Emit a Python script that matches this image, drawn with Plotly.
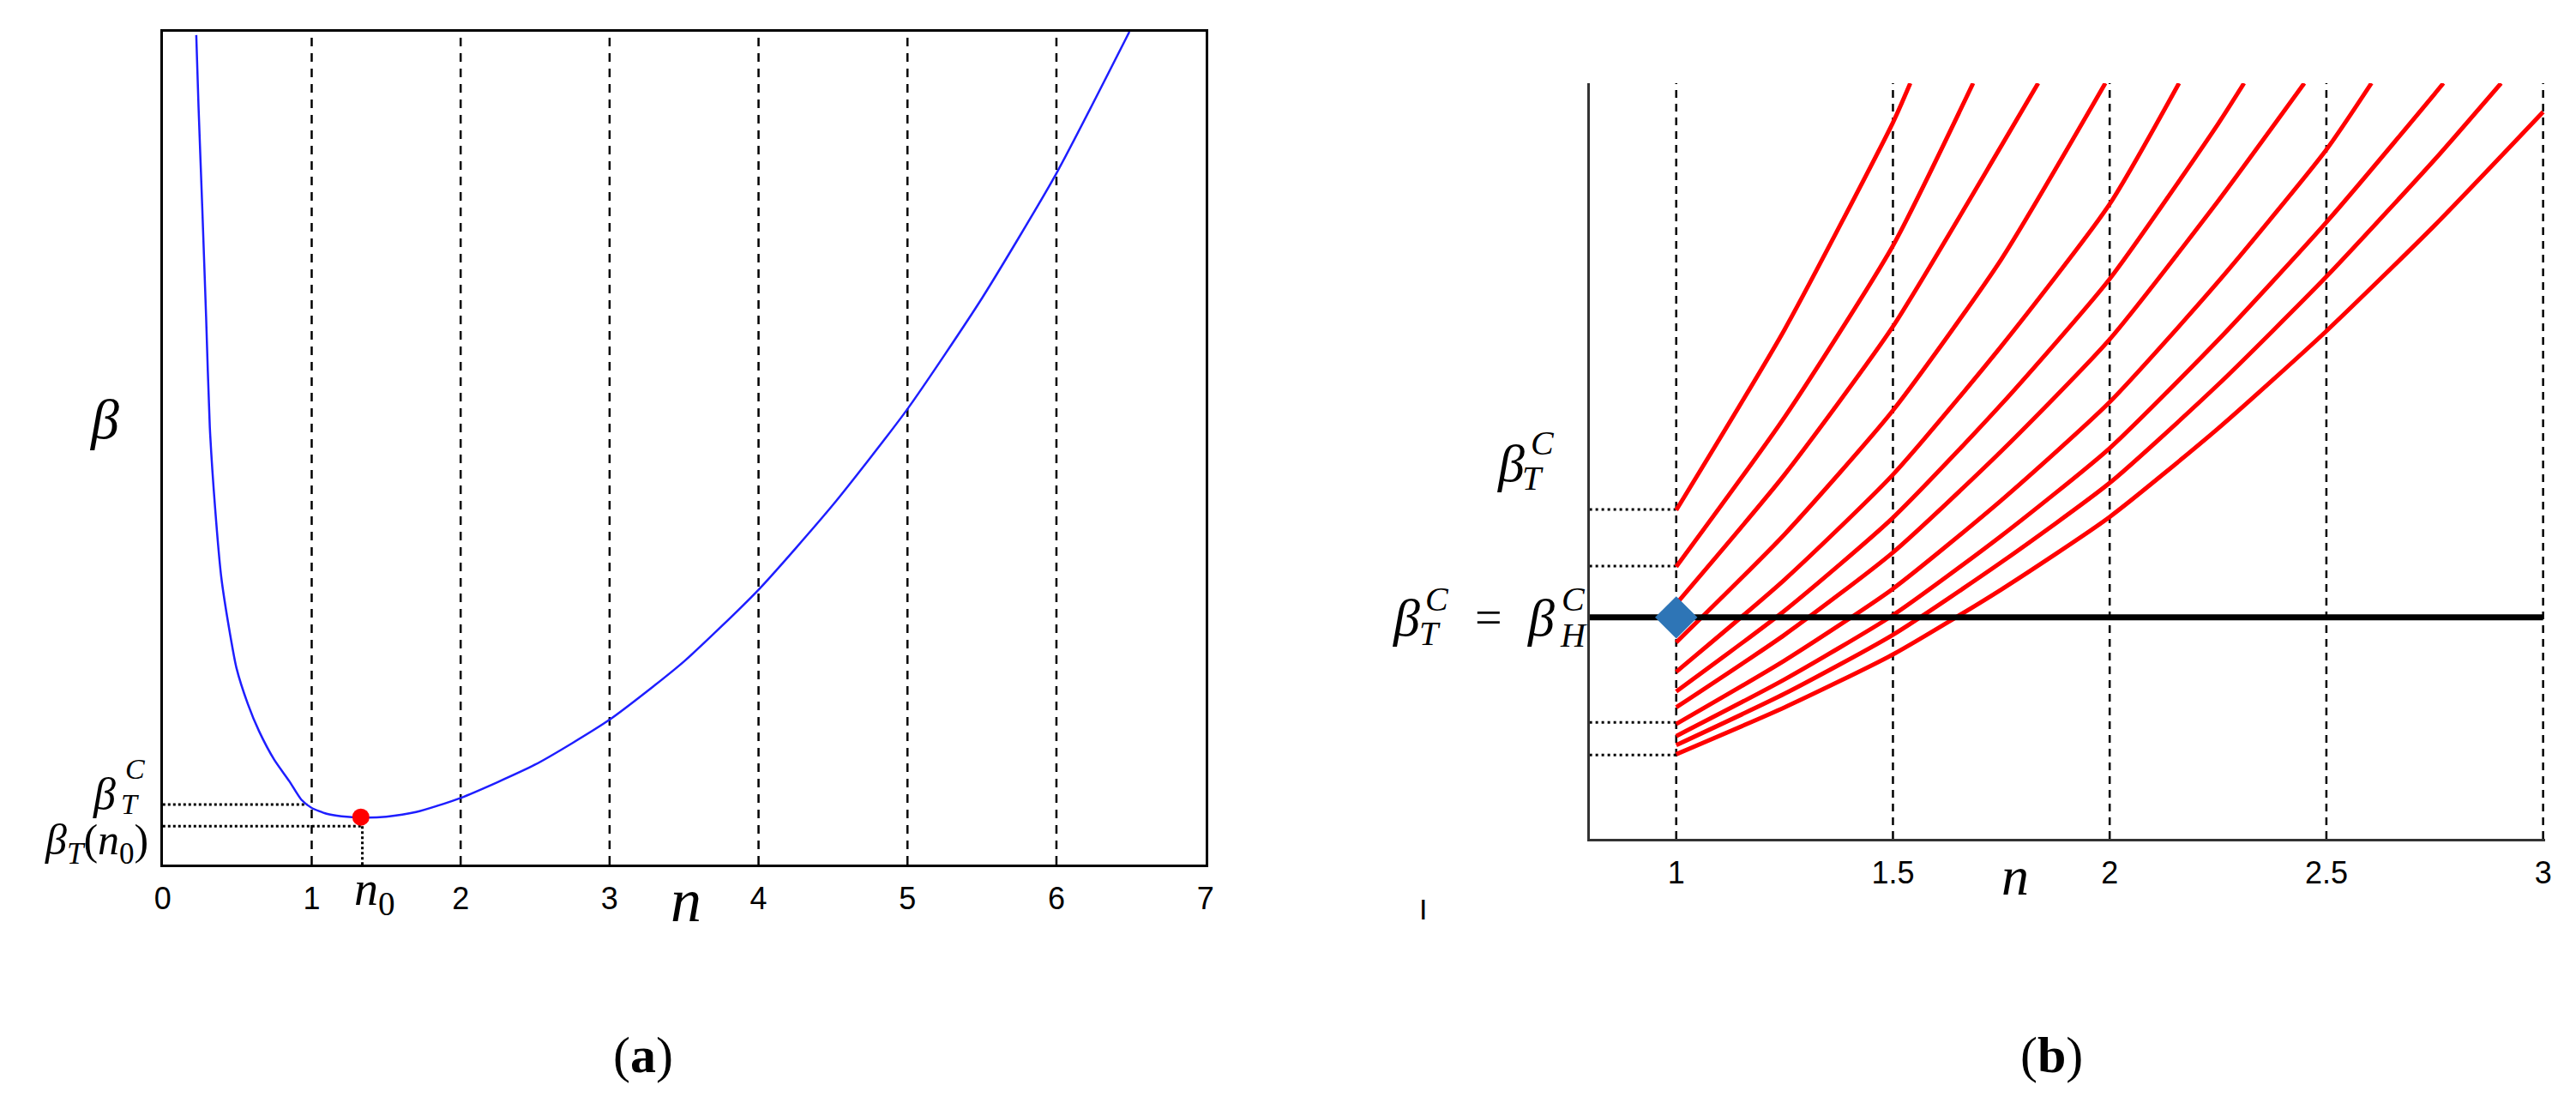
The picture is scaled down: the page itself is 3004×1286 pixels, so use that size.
import plotly.graph_objects as go

W, H = 3004, 1286
SERIF = "Liberation Serif"
SANS = "Liberation Sans"

# ---------- panel (a): beta versus n ----------
a_n = [0.225, 0.240, 0.266, 0.291, 0.316, 0.352, 0.393, 0.443, 0.495, 0.571,
       0.647, 0.748, 0.85, 0.93, 1.0, 1.1, 1.2, 1.35, 1.5, 1.7, 2.0, 2.5,
       3.0, 3.5, 4.0, 4.5, 5.0, 5.5, 6.0, 6.49]
a_beta = [9.96, 9.11, 7.85, 6.58, 5.25, 4.27, 3.45, 2.86, 2.36, 1.93,
          1.60, 1.26, 1.00, 0.78, 0.68, 0.61, 0.58, 0.565, 0.575, 0.63, 0.80, 1.20,
          1.74, 2.44, 3.30, 4.32, 5.47, 6.80, 8.30, 10.0]
a_grid = [1, 2, 3, 4, 5, 6]
a_ticks = [0, 1, 2, 3, 4, 5, 6, 7]
a_beta_TC = 0.72      # dotted level beta_T^C
a_beta_Tn0 = 0.46     # dotted level beta_T(n0)
a_n_TC = 0.97         # where the beta_T^C dotted line stops
a_n0 = 1.34
a_min_n, a_min_beta = 1.33, 0.57

# ---------- panel (b): family of curves ----------
b_ticks = [1, 1.5, 2, 2.5, 3]
b_ticktext = ["1", "1.5", "2", "2.5", "3"]
b_grid = [1, 1.5, 2, 2.5, 3]
b_beta_H = 2.93
b_levels = [4.36, 3.61, 1.54, 1.11]

c1_n = [1, 1.25, 1.5, 1.54]
c1_b = [4.35, 6.74, 9.48, 10]
c2_n = [1, 1.25, 1.5, 1.685]
c2_b = [3.60, 5.58, 7.85, 10]
c3_n = [1, 1.25, 1.5, 1.75, 1.835]
c3_b = [3.11, 4.82, 6.78, 9.17, 10]
c4_n = [1, 1.25, 1.5, 1.75, 1.99]
c4_b = [2.60, 4.03, 5.67, 7.67, 10]
c5_n = [1, 1.25, 1.5, 1.75, 2, 2.16]
c5_b = [2.21, 3.43, 4.82, 6.52, 8.40, 10]
c6_n = [1, 1.25, 1.5, 1.75, 2, 2.25, 2.31]
c6_b = [1.95, 3.02, 4.25, 5.75, 7.41, 9.46, 10]
c7_n = [1, 1.25, 1.5, 1.75, 2, 2.25, 2.449]
c7_b = [1.74, 2.70, 3.79, 5.13, 6.61, 8.44, 10]
c8_n = [1, 1.25, 1.5, 1.75, 2, 2.25, 2.5, 2.604]
c8_b = [1.52, 2.36, 3.31, 4.48, 5.78, 7.37, 9.12, 10]
c9_n = [1, 1.25, 1.5, 1.75, 2, 2.25, 2.5, 2.75, 2.77]
c9_b = [1.36, 2.11, 2.96, 4.01, 5.17, 6.60, 8.16, 9.86, 10]
c10_n = [1, 1.25, 1.5, 1.75, 2, 2.25, 2.5, 2.75, 2.903]
c10_b = [1.24, 1.92, 2.70, 3.66, 4.71, 6.01, 7.44, 8.99, 10]
c11_n = [1, 1.25, 1.5, 1.75, 2, 2.25, 2.5, 2.75, 3]
c11_b = [1.12, 1.74, 2.44, 3.30, 4.26, 5.43, 6.72, 8.12, 9.62]

curves = [(c1_n, c1_b), (c2_n, c2_b), (c3_n, c3_b), (c4_n, c4_b),
          (c5_n, c5_b), (c6_n, c6_b), (c7_n, c7_b), (c8_n, c8_b),
          (c9_n, c9_b), (c10_n, c10_b), (c11_n, c11_b)]


def vlines(xs, y0, y1):
    x, y = [], []
    for v in xs:
        x += [v, v, None]
        y += [y0, y1, None]
    return x, y


def hlines(ys, x0, x1):
    x, y = [], []
    for v in ys:
        x += [x0, x1, None]
        y += [v, v, None]
    return x, y


fig = go.Figure()

# panel (a)
gx, gy = vlines(a_grid, 0, 10)
fig.add_trace(go.Scatter(x=gx, y=gy, mode="lines", xaxis="x", yaxis="y",
                         line=dict(color="black", width=2.5, dash="10px,8px")))
fig.add_trace(go.Scatter(x=[0, a_n_TC, None, 0, a_n0, None, a_n0, a_n0],
                         y=[a_beta_TC, a_beta_TC, None, a_beta_Tn0, a_beta_Tn0, None, a_beta_Tn0, 0],
                         mode="lines", xaxis="x", yaxis="y",
                         line=dict(color="black", width=3, dash="3px,3px")))
fig.add_trace(go.Scatter(x=a_n, y=a_beta, mode="lines", xaxis="x", yaxis="y",
                         line=dict(color="rgb(30,30,255)", width=2.5, shape="spline", smoothing=0.6)))
fig.add_trace(go.Scatter(x=[a_min_n], y=[a_min_beta], mode="markers", xaxis="x", yaxis="y",
                         marker=dict(color="red", size=20)))

# panel (b)
gx, gy = vlines(b_grid, 0, 10)
fig.add_trace(go.Scatter(x=gx, y=gy, mode="lines", xaxis="x2", yaxis="y2",
                         line=dict(color="black", width=2.5, dash="9px,7px")))
hx, hy = hlines(b_levels, 0.8, 1)
fig.add_trace(go.Scatter(x=hx, y=hy, mode="lines", xaxis="x2", yaxis="y2",
                         line=dict(color="black", width=3, dash="3px,4px")))
for cn, cb in curves:
    fig.add_trace(go.Scatter(x=cn, y=cb, mode="lines", xaxis="x2", yaxis="y2",
                             line=dict(color="red", width=5, shape="spline", smoothing=0.6)))
fig.add_trace(go.Scatter(x=[0.8, 3.0], y=[b_beta_H, b_beta_H], mode="lines",
                         xaxis="x2", yaxis="y2", line=dict(color="black", width=7)))
fig.add_trace(go.Scatter(x=[1], y=[b_beta_H], mode="markers", xaxis="x2", yaxis="y2",
                         marker=dict(symbol="diamond", color="rgb(46,117,182)", size=38)))


def ann(x, y, text, size, family=SERIF):
    return dict(x=x / W, y=1 - y / H, xref="paper", yref="paper", text=text,
                showarrow=False, xanchor="center", yanchor="middle",
                font=dict(size=size, family=family, color="black"))


annotations = [
    # panel (a)
    ann(112, 488, "<i>β</i>", 66),
    ann(112, 925, "<i>β</i>", 52),
    ann(148, 896, "<i>C</i>", 34),
    ann(142, 937, "<i>T</i>", 34),
    ann(103, 983, "<i>β</i><sub><i>T</i></sub>(<i>n</i><sub>0</sub>)", 50),
    ann(430, 1040, "<i>n</i><sub>0</sub>", 56),
    ann(795, 1050, "<i>n</i>", 72),
    ann(745, 1230, "(<b>a</b>)", 60),
    # panel (b)
    ann(1764, 540, "<i>β</i>", 62),
    ann(1801, 516, "<i>C</i>", 40),
    ann(1789, 557, "<i>T</i>", 40),
    ann(1641, 720, "<i>β</i>", 62),
    ann(1677, 699, "<i>C</i>", 40),
    ann(1669, 738, "<i>T</i>", 40),
    ann(1738, 720, "=", 56),
    ann(1799, 720, "<i>β</i>", 62),
    ann(1837, 699, "<i>C</i>", 40),
    ann(1837, 740, "<i>H</i>", 40),
    ann(2356, 1021, "<i>n</i>", 64),
    ann(1661, 1060, "I", 34, SANS),
    ann(2398, 1230, "(<b>b</b>)", 60),
]

tickfont = dict(family=SANS, size=36, color="black")
fig.update_layout(
    width=W, height=H, autosize=False,
    margin=dict(l=0, r=0, t=0, b=0),
    paper_bgcolor="white", plot_bgcolor="white",
    showlegend=False,
    annotations=annotations,
    xaxis=dict(domain=[181 / W, 1405 / W], range=[0, 7], anchor="y",
               showline=True, linecolor="black", linewidth=3, mirror=True,
               showgrid=False, zeroline=False, ticks="",
               tickvals=a_ticks, ticktext=[str(t) for t in a_ticks],
               tickfont=tickfont, ticklabelstandoff=6),
    yaxis=dict(domain=[1 - 1008 / H, 1 - 37 / H], range=[0, 10], anchor="x",
               showline=True, linecolor="black", linewidth=3, mirror=True,
               showgrid=False, zeroline=False, ticks="", showticklabels=False),
    xaxis2=dict(domain=[1856 / W, 2978 / W], range=[0.8, 3.005], anchor="y2",
                showline=True, linecolor="#333333", linewidth=3,
                showgrid=False, zeroline=False, ticks="",
                tickvals=b_ticks, ticktext=b_ticktext,
                tickfont=tickfont, ticklabelstandoff=6),
    yaxis2=dict(domain=[1 - 978 / H, 1 - 97 / H], range=[0, 10], anchor="x2",
                showline=True, linecolor="#333333", linewidth=3,
                showgrid=False, zeroline=False, ticks="", showticklabels=False),
)

fig.write_html("out.html", config={"displayModeBar": False},
               post_script="document.body.style.margin='0';")
